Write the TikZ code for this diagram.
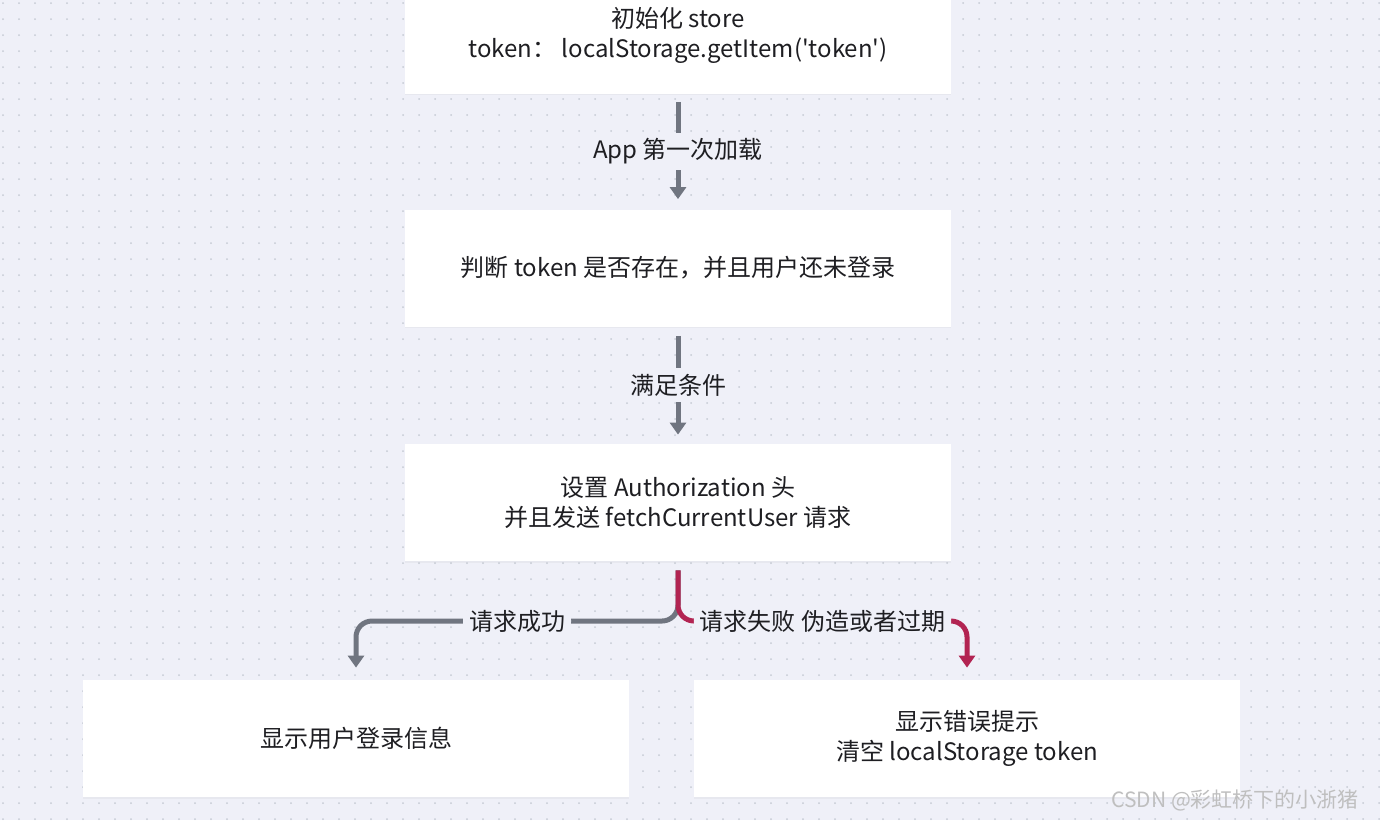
\documentclass[tikz,border=0pt]{standalone}
\usepackage{fontspec}
\setmainfont{Noto Sans CJK SC}
\usetikzlibrary{arrows.meta,positioning,shadows}
\definecolor{canvas}{RGB}{239,240,248}
\definecolor{dotgray}{RGB}{198,202,212}
\definecolor{flowgray}{RGB}{112,117,128}
\definecolor{failred}{RGB}{178,36,82}
\definecolor{ink}{RGB}{30,30,34}
\tikzset{
  card/.style={rectangle, fill=white, draw=none, minimum width=273pt,
    minimum height=58.5pt, align=center, text=ink, font=\fontsize{12}{15}\selectfont,
    drop shadow={opacity=0.07, shadow xshift=0pt, shadow yshift=-0.8pt}},
  lbl/.style={fill=canvas, text=ink, font=\fontsize{12}{15}\selectfont, inner sep=3pt},
  flow/.style={-{Triangle[width=8pt,length=6pt]}, line width=2.5pt, draw=flowgray},
  failflow/.style={flow, draw=failred},
}
\begin{document}
\begin{tikzpicture}[x=0.5pt, y=-0.5pt]
  \useasboundingbox (0,0) rectangle (1380,820);
  \clip (0,0) rectangle (1380,820);
  \fill[canvas] (0,0) rectangle (1380,820);
  \foreach \x in {3,19,...,1380} \foreach \y in {3,19,...,820} \fill[dotgray] (\x,\y) circle (0.5pt);
  \node[card] (init) at (678,35) {初始化 store\\token：\ localStorage.getItem(\textquotesingle token\textquotesingle)};
  \node[card] (check) at (678,268) {判断 token 是否存在，并且用户还未登录};
  \node[card] (auth) at (678,502.5) {设置 Authorization 头\\并且发送 fetchCurrentUser 请求};
  \node[card] (ok) at (356,738.5) {显示用户登录信息};
  \node[card] (fail) at (967,738.5) {显示错误提示\\清空 localStorage token};
  \draw[flow, shorten <=4pt, shorten >=5pt] (init) -- node[lbl] {App 第一次加载} (check);
  \draw[flow, shorten <=4.5pt, shorten >=4.5pt] (check) -- node[lbl] {满足条件} (auth);
  \coordinate (split) at (678,621);
  \draw[flow, rounded corners=8pt, shorten <=4.5pt, shorten >=6pt] (auth.south) -- (auth.south |- split)
    -- node[lbl] {请求成功} (ok.north |- split) -- (ok.north);
  \draw[failflow, rounded corners=8pt, shorten <=4.5pt, shorten >=6pt] (auth.south) -- (auth.south |- split)
    -- node[lbl] {请求失败 伪造或者过期} (fail.north |- split) -- (fail.north);
  \node[text=black!25, font=\fontsize{10.5}{12}\selectfont, anchor=east] (mark) at (1366,800) {CSDN @彩虹桥下的小浙猪};
\end{tikzpicture}
\end{document}
